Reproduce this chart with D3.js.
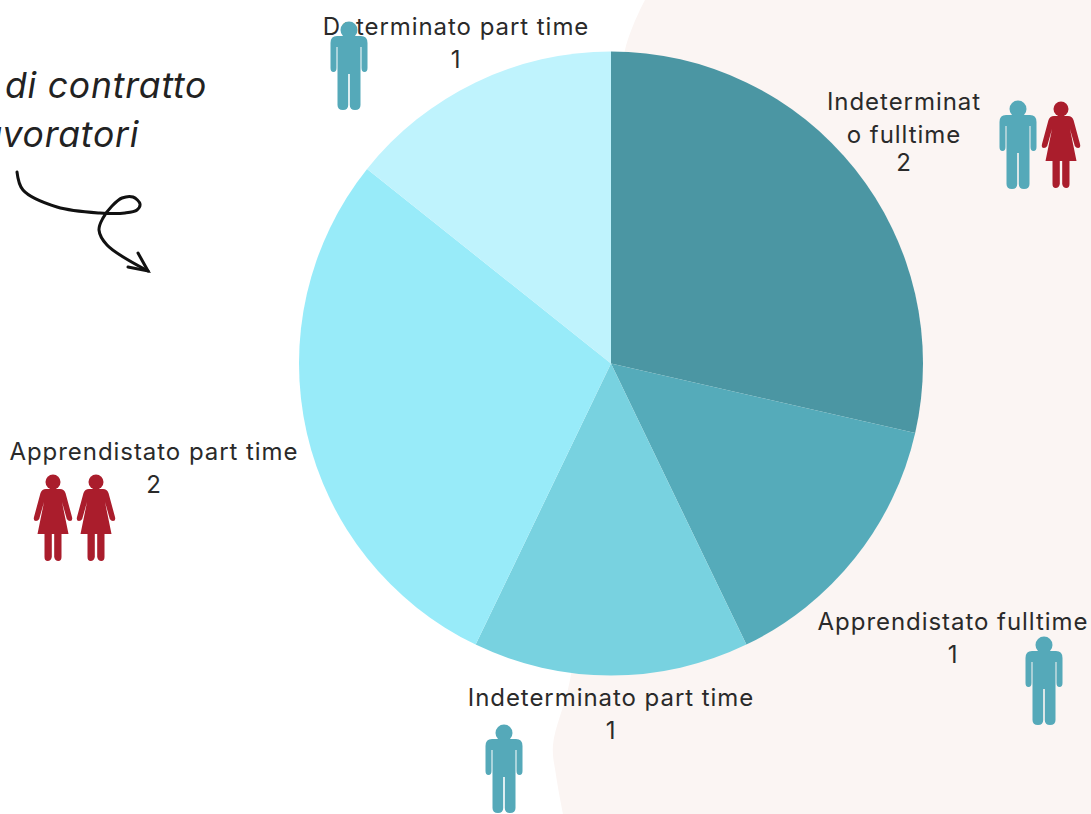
<!DOCTYPE html>
<html>
<head>
<meta charset="utf-8">
<script src="https://cdn.jsdelivr.net/npm/d3@7"></script>
<style>
html, body { margin: 0; padding: 0; background: #fff; overflow: hidden; }
svg { display: block; }
.lab { font-family: Inter, sans-serif; font-size: 24px; letter-spacing: 0.95px; fill: #2a2a2a; text-anchor: middle; }
.title { font-family: Inter, sans-serif; font-style: italic; font-size: 35.5px; fill: #222; letter-spacing: 0.8px; }
</style>
</head>
<body>
<svg id="canvas"></svg>
<script>
var w = 1091;
var h = 814;

// chart values, clockwise from 12 o'clock
var categories = ["Indeterminato fulltime", "Apprendistato fulltime", "Indeterminato part time", "Apprendistato part time", "Determinato part time"];
var counts = [2, 1, 1, 2, 1];
var men = [1, 1, 1, 0, 1];
var women = [1, 0, 0, 2, 0];
var sliceColors = ["#4b96a3", "#55abba", "#78d2e0", "#98ebf9", "#bff3fd"];

// label layout, same order as categories
var labelLines = [["Indeterminat", "o fulltime", "2"], ["Apprendistato fulltime", "1"], ["Indeterminato part time", "1"], ["Apprendistato part time", "2"], ["Determinato part time", "1"]];
var labelX = [904, 953, 611, 154, 456];
var labelY = [[110, 143, 171], [630, 663], [706, 739], [460, 493], [35, 68]];
var iconX = [1018, 1044, 504, 53, 349];
var iconY = [101, 637, 725, 474, 22];
var iconGap = 43;

var svg = d3.select("#canvas")
  .attr("width", w)
  .attr("height", h)
  .attr("viewBox", [0, 0, w, h]);

// pink background on the right
var bgEdge = [[645, 0], [625, 50], [600, 300], [585, 550], [570, 680], [553, 745], [556, 775], [563, 814]];
svg.append("path")
  .attr("d", d3.line().curve(d3.curveCatmullRom)(bgEdge) + "L1091,814L1091,0Z")
  .attr("fill", "#fbf5f3");

// pie
var pie = d3.pie().sort(null).value(function (d) { return d; });
var arc = d3.arc().innerRadius(0).outerRadius(312);
svg.append("g")
  .attr("transform", "translate(611,363.5)")
  .selectAll("path")
  .data(pie(counts))
  .enter()
  .append("path")
  .attr("d", arc)
  .attr("fill", function (d, i) { return sliceColors[i]; });

// people icons, 88 tall, origin at top centre
var manPath = "M-12,14 Q-18.5,14 -18.5,21 L-18.5,46 Q-18.5,50 -15.5,50 Q-12.5,50 -12.5,46 L-12.5,25 L-11.5,25 L-11.5,83 Q-11.5,88 -6,88 Q-0.8,88 -0.8,83 L-0.8,52 L0.8,52 L0.8,83 Q0.8,88 6,88 Q11.5,88 11.5,83 L11.5,25 L12.5,25 L12.5,46 Q12.5,50 15.5,50 Q18.5,50 18.5,46 L18.5,21 Q18.5,14 12,14 Z";
var womanPath = "M-7,15 Q-11,15 -12.5,19 L-19,43 Q-20,47 -17,47 Q-15,47 -13.8,45 L-9,28 L-15.5,60 L-8.5,60 L-8.5,83 Q-8.5,87 -5.3,87 Q-2,87 -1.2,83 L-1.2,60 L1.2,60 L1.2,83 Q2,87 5.3,87 Q8.5,87 8.5,83 L8.5,60 L15.5,60 L9,28 L13.8,45 Q15,47 17,47 Q20,47 19,43 L12.5,19 Q11,15 7,15 Z";

function drawPerson(x, y, kind) {
  var col = kind == "m" ? "#55a9b9" : "#aa1d2c";
  var g = svg.append("g").attr("transform", "translate(" + x + "," + y + ")");
  g.append("circle").attr("cx", 0).attr("cy", 8).attr("r", kind == "m" ? 8.5 : 7.5).attr("fill", col);
  g.append("path").attr("d", kind == "m" ? manPath : womanPath).attr("fill", col);
}

// text first, the Determinato icon sits on top of its label
categories.forEach(function (c, i) {
  labelLines[i].forEach(function (t, j) {
    svg.append("text")
      .attr("class", "lab")
      .attr("x", labelX[i])
      .attr("y", labelY[i][j])
      .text(t);
  });
  var x = iconX[i];
  d3.range(men[i]).forEach(function () { drawPerson(x, iconY[i], "m"); x += iconGap; });
  d3.range(women[i]).forEach(function () { drawPerson(x, iconY[i], "w"); x += iconGap; });
});

// title, cut by the left edge in the picture
svg.append("text").attr("class", "title").attr("x", 5).attr("y", 98).text("di contratto");
svg.append("text").attr("class", "title").attr("x", -29).attr("y", 147).text("lavoratori");

// hand drawn arrow
var squiggle = [[17, 172], [23, 190], [57, 207], [100, 213], [125, 213], [137, 210], [140, 204], [133, 197], [122, 198], [112, 206], [103, 218], [99, 230], [107, 245], [148, 271]];
var arrowHead = [[128, 267], [148, 271], [138, 253]];
var lineGen = d3.line().curve(d3.curveCatmullRom);
svg.append("path").attr("d", lineGen(squiggle)).attr("fill", "none").attr("stroke", "#111").attr("stroke-width", 3).attr("stroke-linecap", "round");
svg.append("path").attr("d", d3.line()(arrowHead)).attr("fill", "none").attr("stroke", "#111").attr("stroke-width", 3).attr("stroke-linecap", "round");
</script>
</body>
</html>
